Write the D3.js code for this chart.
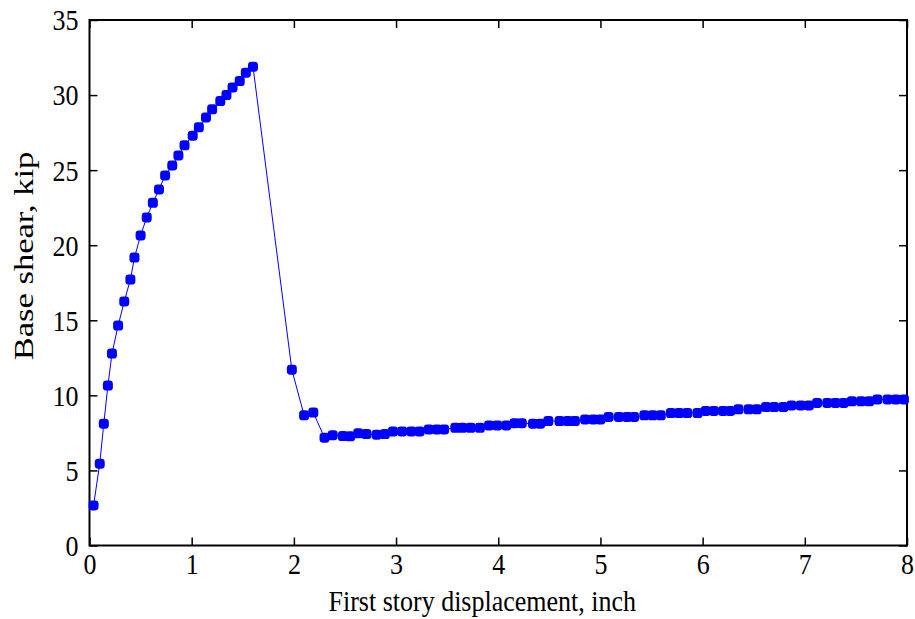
<!DOCTYPE html>
<html>
<head>
<meta charset="utf-8">
<script src="https://cdn.jsdelivr.net/npm/d3@7"></script>
<style>
  html, body { margin: 0; padding: 0; background: #fff; }
  svg { display: block; }
  text { font-family: "Liberation Serif", "Times New Roman", serif; fill: #000; }
</style>
</head>
<body>
<svg id="chart" width="915" height="619"></svg>
<script>
// Displacement (inch)
const displacement = [
  0.04, 0.10, 0.14, 0.18, 0.22, 0.28, 0.34, 0.40, 0.44, 0.50,
  0.56, 0.62, 0.68, 0.74, 0.81, 0.87, 0.93, 1.01, 1.07, 1.14,
  1.20, 1.28, 1.34, 1.40, 1.47, 1.53, 1.60,
  1.98, 2.10, 2.19,
  2.30, 2.38, 2.48, 2.55, 2.63, 2.71, 2.81, 2.89, 2.97, 3.06,
  3.15, 3.23, 3.32, 3.40, 3.47, 3.58, 3.65, 3.73, 3.82, 3.91,
  3.99, 4.08, 4.16, 4.23, 4.34, 4.41, 4.49, 4.60, 4.68, 4.75,
  4.85, 4.93, 5.00, 5.08, 5.18, 5.26, 5.33, 5.43, 5.51, 5.59,
  5.69, 5.77, 5.85, 5.95, 6.03, 6.11, 6.20, 6.27, 6.35, 6.45,
  6.53, 6.62, 6.70, 6.79, 6.87, 6.96, 7.04, 7.12, 7.22, 7.30,
  7.38, 7.46, 7.55, 7.63, 7.71, 7.81, 7.89, 7.97
];
// Base shear (kip)
const baseShear = [
  2.67, 5.45, 8.11, 10.65, 12.78, 14.65, 16.25, 17.71, 19.18, 20.65,
  21.85, 22.82, 23.71, 24.65, 25.31, 25.98, 26.65, 27.29, 27.85, 28.51,
  29.05, 29.60, 30.00, 30.51, 30.93, 31.49, 31.89,
  11.71, 8.67, 8.85,
  7.18, 7.35, 7.29, 7.27, 7.47, 7.42, 7.38, 7.42, 7.60, 7.60,
  7.60, 7.60, 7.73, 7.73, 7.73, 7.84, 7.84, 7.84, 7.84, 8.00,
  8.00, 8.00, 8.15, 8.15, 8.11, 8.11, 8.29, 8.29, 8.29, 8.29,
  8.40, 8.40, 8.40, 8.56, 8.56, 8.56, 8.56, 8.67, 8.67, 8.67,
  8.82, 8.82, 8.82, 8.82, 8.96, 8.96, 8.96, 8.96, 9.07, 9.07,
  9.07, 9.22, 9.22, 9.22, 9.33, 9.33, 9.33, 9.49, 9.49, 9.49,
  9.49, 9.60, 9.60, 9.60, 9.73, 9.73, 9.73, 9.73
];
const xTicks = [0, 1, 2, 3, 4, 5, 6, 7, 8];
const yTicks = [0, 5, 10, 15, 20, 25, 30, 35];
const xLabel = "First story displacement, inch";
const yLabel = "Base shear, kip";

const data = displacement.map((d, i) => ({x: d, y: baseShear[i]}));

const svg = d3.select("#chart");
const mLeft = 89.5, mRight = 907, mTop = 20, mBottom = 545.5;

const x = d3.scaleLinear().domain([0, 8]).range([mLeft, mRight]);
const y = d3.scaleLinear().domain([0, 35]).range([mBottom, mTop]);

const tickLen = 8;
const fs = 26;

const axes = svg.append("g");

const gx = axes.append("g").attr("transform", `translate(0,${mBottom})`)
  .call(d3.axisBottom(x).tickValues(xTicks).tickSize(-tickLen).tickPadding(10).tickFormat(d3.format("d")));
const gxt = axes.append("g").attr("transform", `translate(0,${mTop})`)
  .call(d3.axisTop(x).tickValues(xTicks).tickSize(-tickLen).tickFormat(""));
const gy = axes.append("g").attr("transform", `translate(${mLeft},0)`)
  .call(d3.axisLeft(y).tickValues(yTicks).tickSize(-tickLen).tickPadding(11).tickFormat(d3.format("d")));
const gyr = axes.append("g").attr("transform", `translate(${mRight},0)`)
  .call(d3.axisRight(y).tickValues(yTicks).tickSize(-tickLen).tickFormat(""));

[gx, gxt, gy, gyr].forEach(g => {
  g.select(".domain").remove();
  g.selectAll(".tick line").attr("stroke", "#000").attr("stroke-width", 1.5);
  g.selectAll(".tick text").attr("font-size", fs)
   .style("font-family", '"Liberation Serif", serif');
});

axes.append("rect")
  .attr("x", mLeft).attr("y", mTop)
  .attr("width", mRight - mLeft).attr("height", mBottom - mTop)
  .attr("fill", "none").attr("stroke", "#000").attr("stroke-width", 2);

gx.selectAll(".tick text").each(function() {
  const t = d3.select(this);
  t.attr("y", null).attr("dy", null)
   .attr("transform", `translate(0,28) scale(1,1.12)`);
});
gy.selectAll(".tick text").each(function() {
  const t = d3.select(this);
  const xx = +t.attr("x");
  t.attr("x", null).attr("dy", "0.34em")
   .attr("transform", `translate(${xx},0) scale(1,1.12)`);
});

svg.append("path")
  .datum(data)
  .attr("fill", "none")
  .attr("stroke", "#0000ff")
  .attr("stroke-width", 1)
  .attr("d", d3.line().x(d => x(d.x)).y(d => y(d.y)));

const ms = 10;
svg.append("g").selectAll("rect")
  .data(data)
  .join("rect")
  .attr("x", d => x(d.x) - ms / 2)
  .attr("y", d => y(d.y) - ms / 2)
  .attr("width", ms)
  .attr("height", ms)
  .attr("rx", 3.4)
  .attr("fill", "#0000ff");

svg.append("text")
  .attr("text-anchor", "middle")
  .attr("font-size", fs)
  .attr("transform", `translate(${(mLeft + mRight) / 2 - 16},${611}) scale(1,1.14)`)
  .text(xLabel);

svg.append("text")
  .attr("text-anchor", "middle")
  .attr("font-size", 27)
  .attr("transform", `translate(33,${256}) rotate(-90) scale(1.28,1)`)
  .text(yLabel);
</script>
</body>
</html>
